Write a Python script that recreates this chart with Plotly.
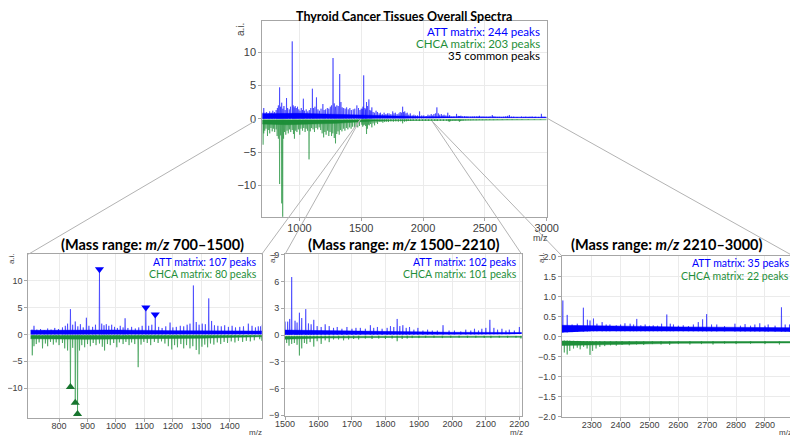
import numpy as np
import plotly.graph_objects as go

# ---- spectrum data (m/z, intensity a.i.) ----
att_mz = [705, 712, 722, 735, 748, 760, 772, 785, 798, 812, 822, 830, 840, 848, 857, 866, 875, 885, 896, 905,
          918, 928, 942, 950, 958, 966, 975, 985, 995, 1005, 1015, 1025, 1032, 1042, 1055, 1068, 1080, 1092, 1105, 1115,
          1126, 1138, 1150, 1162, 1175, 1190, 1200, 1212, 1226, 1238, 1250, 1260, 1272, 1282, 1292, 1303, 1314, 1326, 1336, 1346,
          1358, 1370, 1382, 1395, 1408, 1420, 1435, 1448, 1465, 1478, 1490, 1500, 1508, 1514, 1520, 1530, 1536, 1543, 1550, 1562,
          1570, 1578, 1586, 1596, 1608, 1620, 1632, 1645, 1656, 1670, 1685, 1700, 1712, 1725, 1740, 1755, 1765, 1776, 1790, 1805,
          1815, 1825, 1835, 1843, 1852, 1862, 1872, 1885, 1897, 1912, 1926, 1940, 1955, 1972, 1990, 2006, 2025, 2040, 2055, 2066,
          2078, 2088, 2100, 2112, 2124, 2135, 2148, 2160, 2170, 2185, 2200, 2215, 2232, 2250, 2271, 2285, 2294, 2306, 2318, 2336,
          2350, 2363, 2385, 2400, 2415, 2433, 2445, 2456, 2470, 2485, 2500, 2513, 2528, 2542, 2560, 2572, 2583, 2600, 2617, 2635,
          2652, 2669, 2684, 2698, 2715, 2733, 2760, 2796, 2815, 2831, 2850, 2865, 2882, 2900, 2911, 2935, 2957, 2970, 2985]
att_int = [0.9, 1.6, 0.9, 1.0, 0.8, 1.1, 0.9, 1.2, 1.0, 1.3, 1.6, 2.0, 4.7, 1.8, 2.4, 1.5, 1.9, 1.3, 3.1, 1.6,
           1.4, 1.8, 11.6, 2.0, 1.7, 1.9, 1.6, 1.8, 1.4, 1.2, 1.6, 1.3, 3.0, 1.2, 1.4, 1.1, 1.3, 1.6, 4.5, 1.6,
           1.8, 3.2, 1.4, 1.2, 1.5, 2.2, 1.3, 1.4, 1.6, 1.5, 1.8, 2.0, 9.1, 2.3, 1.8, 2.0, 1.9, 6.7, 2.5, 1.7,
           1.6, 1.5, 1.7, 1.4, 1.6, 1.3, 1.4, 1.5, 2.0, 1.6, 1.3, 1.5, 1.5, 1.8, 6.5, 1.6, 1.4, 2.5, 1.9, 2.9,
           1.3, 1.2, 1.7, 1.0, 0.9, 1.2, 1.0, 0.8, 0.9, 0.7, 0.9, 0.7, 0.8, 0.8, 0.7, 1.1, 0.8, 0.9, 0.7, 0.8,
           1.0, 0.9, 1.8, 1.0, 1.1, 0.8, 0.9, 0.6, 0.8, 0.5, 0.6, 0.5, 0.5, 1.1, 0.5, 0.5, 0.4, 0.6, 0.5, 0.7,
           0.5, 0.7, 0.8, 1.7, 0.8, 0.6, 0.7, 0.5, 0.6, 0.5, 0.9, 0.54, 0.3, 0.32, 0.72, 0.42, 0.4, 0.45, 0.32, 0.36,
           0.3, 0.3, 0.28, 0.3, 0.33, 0.32, 0.3, 0.44, 0.28, 0.3, 0.27, 0.28, 0.27, 0.32, 0.55, 0.32, 0.3, 0.27, 0.28, 0.26,
           0.3, 0.36, 0.43, 0.56, 0.3, 0.3, 0.26, 0.32, 0.27, 0.31, 0.27, 0.3, 0.33, 0.27, 0.3, 0.27, 0.73, 0.3, 0.3]

chca_mz = [706, 712, 720, 730, 742, 752, 760, 770, 780, 790, 800, 812, 820, 830, 840, 848, 857, 865, 872, 880,
           890, 900, 910, 920, 930, 942, 952, 960, 970, 980, 992, 1003, 1012, 1025, 1035, 1046, 1055, 1066, 1078, 1088,
           1098, 1110, 1122, 1135, 1148, 1160, 1172, 1184, 1196, 1206, 1216, 1228, 1238, 1248, 1260, 1270, 1282, 1292, 1302, 1312,
           1322, 1332, 1344, 1356, 1368, 1380, 1392, 1405, 1418, 1430, 1445, 1458, 1472, 1486, 1505, 1512, 1520, 1528, 1536, 1543,
           1550, 1558, 1565, 1575, 1586, 1596, 1608, 1620, 1632, 1645, 1660, 1675, 1690, 1705, 1720, 1740, 1760, 1780, 1800, 1820,
           1835, 1850, 1865, 1880, 1900, 1920, 1945, 1970, 1995, 2020, 2045, 2070, 2095, 2115, 2140, 2165, 2190, 2205, 2215, 2224,
           2237, 2250, 2260, 2272, 2284, 2294, 2303, 2315, 2328, 2345, 2365, 2385, 2405, 2430, 2455, 2480, 2510, 2540, 2570, 2600,
           2640, 2680, 2720, 2760, 2800, 2850, 2900, 2950]
chca_int = [-3.9, -2.2, -1.8, -1.5, -2.6, -1.7, -2.2, -1.4, -1.9, -1.5, -2.0, -1.6, -2.6, -3.0, -9.8, -2.5, -12.7, -14.8, -3.0, -2.0,
            -2.4, -1.8, -2.2, -1.6, -2.0, -1.7, -2.3, -3.0, -1.8, -2.0, -1.6, -2.4, -1.5, -1.8, -1.4, -2.0, -1.5, -1.8, -6.1, -1.9,
            -1.4, -1.6, -2.0, -1.4, -1.6, -1.3, -1.7, -2.2, -2.8, -2.0, -2.4, -1.8, -2.6, -2.0, -2.6, -2.2, -2.9, -3.7, -2.3, -1.9,
            -2.4, -1.7, -1.9, -1.5, -1.8, -1.4, -1.6, -1.3, -1.5, -1.2, -1.4, -1.2, -1.3, -1.1, -0.9, -1.2, -1.0, -0.9, -1.1, -2.3,
            -1.5, -0.9, -1.0, -0.8, -1.3, -0.7, -1.0, -0.6, -0.8, -0.5, -0.5, -0.6, -0.5, -0.45, -0.5, -0.4, -0.45, -0.4, -0.45, -0.4,
            -0.7, -0.45, -0.4, -0.35, -0.35, -0.3, -0.3, -0.35, -0.3, -0.3, -0.32, -0.3, -0.32, -0.35, -0.3, -0.32, -0.3, -0.4, -0.45, -0.36,
            -0.3, -0.28, -0.32, -0.26, -0.3, -0.46, -0.36, -0.3, -0.26, -0.24, -0.22, -0.23, -0.21, -0.22, -0.2, -0.21, -0.19, -0.2, -0.21, -0.19,
            -0.2, -0.19, -0.2, -0.18, -0.19, -0.18, -0.19, -0.2]

# dense noise band under each spectrum
att_band_mz = [700, 800, 900, 1000, 1200, 1400, 1500, 1600, 1800, 2000, 2200, 2300, 2600, 3000]
att_band_lo = [0.0, 0.0, 0.0, 0.0, 0.0, 0.0, 0.0, 0.02, 0.03, 0.05, 0.1, 0.13, 0.13, 0.12]
att_band_hi = [0.75, 0.8, 0.85, 0.8, 0.7, 0.6, 0.55, 0.45, 0.4, 0.3, 0.28, 0.27, 0.24, 0.22]
chca_band_mz = [700, 900, 1100, 1300, 1500, 1600, 1800, 2000, 2200, 2300, 2600, 3000]
chca_band_hi = [-0.15, -0.15, -0.15, -0.15, -0.1, -0.08, -0.08, -0.08, -0.1, -0.12, -0.12, -0.12]
chca_band_lo = [-0.8, -0.9, -0.8, -0.7, -0.45, -0.35, -0.28, -0.25, -0.22, -0.2, -0.17, -0.16]

# marked peaks in the 700-1500 panel
att_mark_mz = [942, 1105, 1138]
att_mark_int = [11.6, 4.5, 3.2]
chca_mark_mz = [840, 857, 865]
chca_mark_int = [-9.8, -12.7, -14.8]

BLUE = '#0000ff'
GREEN = '#1f8f3a'
# page body keeps an 8px margin, so the figure is drawn 8px in from the window corner
OFF = 8
W, H = 790, 430


def px(x):
    return (x - OFF) / W


def py(y):
    return 1 - (y - OFF) / H


def peak_xy(mz, inten, band_mz, band_edge, hw):
    xs, ys = [], []
    for m, h in zip(mz, inten):
        b = float(np.interp(m, band_mz, band_edge))
        xs += [m - hw, m, m + hw, None]
        ys += [b, h, b, None]
    return xs, ys


fig = go.Figure()

# panel: axis suffix, x domain px, y domain px, x range, y range, x ticks, y ticks, font size, peak half width, label shift
panels = [
    ('', (262.3, 546.7), (20.7, 216.7), [700, 3000], [-14.7, 14.7],
     [1000, 1500, 2000, 2500, 3000], [-10, -5, 0, 5, 10], 11, 2.5, -2),
    ('2', (28.3, 261.7), (254.3, 417.7), [692, 1512], [-15.5, 14.9],
     [800, 900, 1000, 1100, 1200, 1300, 1400], [-10, -5, 0, 5, 10], 9, 1.5, -4),
    ('3', (285, 521.7), (254.3, 415.7), [1500, 2207], [-9.05, 9.05],
     [1500, 1600, 1700, 1800, 1900, 2000, 2100, 2200], [-9, -6, -3, 0, 3, 6, 9], 9, 1.2, -4),
    ('4', (561.7, 792.7), (255.7, 417.3), [2196, 2996], [-2.02, 2.02],
     [2300, 2400, 2500, 2600, 2700, 2800, 2900], [-2, -1.5, -1, -0.5, 0, 0.5, 1, 1.5, 2], 9, 1.2, -4),
]

for suf, xd, yd, xr, yr, xt, yt, fs, hw, stand in panels:
    xa, ya = 'x' + suf, 'y' + suf
    # noise bands
    fig.add_trace(go.Scatter(x=att_band_mz, y=att_band_lo, mode='lines', line=dict(width=0, color=BLUE),
                             xaxis=xa, yaxis=ya, showlegend=False, hoverinfo='skip'))
    fig.add_trace(go.Scatter(x=att_band_mz, y=att_band_hi, mode='lines', line=dict(width=0.5, color=BLUE),
                             fill='tonexty', fillcolor=BLUE, xaxis=xa, yaxis=ya, showlegend=False))
    fig.add_trace(go.Scatter(x=chca_band_mz, y=chca_band_hi, mode='lines', line=dict(width=0, color=GREEN),
                             xaxis=xa, yaxis=ya, showlegend=False, hoverinfo='skip'))
    fig.add_trace(go.Scatter(x=chca_band_mz, y=chca_band_lo, mode='lines', line=dict(width=0.5, color=GREEN),
                             fill='tonexty', fillcolor=GREEN, xaxis=xa, yaxis=ya, showlegend=False))
    # peaks
    ax, ay = peak_xy(att_mz, att_int, att_band_mz, att_band_lo, hw)
    fig.add_trace(go.Scatter(x=ax, y=ay, mode='lines', fill='toself', fillcolor='rgba(0,0,255,0.35)',
                             line=dict(width=0.8, color='rgba(0,0,255,0.6)'), xaxis=xa, yaxis=ya, showlegend=False))
    cx, cy = peak_xy(chca_mz, chca_int, chca_band_mz, chca_band_hi, hw)
    fig.add_trace(go.Scatter(x=cx, y=cy, mode='lines', fill='toself', fillcolor='rgba(31,143,58,0.4)',
                             line=dict(width=0.8, color='rgba(31,143,58,0.7)'), xaxis=xa, yaxis=ya, showlegend=False))

    axis_common = dict(showgrid=True, gridcolor='#ebebeb', gridwidth=1, zeroline=False, showline=True,
                       mirror=True, linecolor='#a6a6a6', linewidth=1, ticks='outside', ticklen=3,
                       tickcolor='#a6a6a6', automargin=False,
                       tickfont=dict(family='Liberation Sans, Arial', size=fs, color='#404040'))
    fig.layout['xaxis' + suf] = dict(domain=[px(xd[0]), px(xd[1])], range=xr, anchor=ya, tickvals=xt,
                                     ticklabelstandoff=stand, **axis_common)
    fig.layout['yaxis' + suf] = dict(domain=[py(yd[1]), py(yd[0])], range=yr, anchor=xa, tickvals=yt,
                                     tickformat='.1f' if suf == '4' else '', **axis_common)

# markers on the zoomed 700-1500 panel
fig.add_trace(go.Scatter(x=att_mark_mz, y=[v + 0.5 for v in att_mark_int], mode='markers',
                         marker=dict(symbol='triangle-down', size=8, color=BLUE),
                         xaxis='x2', yaxis='y2', showlegend=False))
fig.add_trace(go.Scatter(x=chca_mark_mz, y=chca_mark_int, mode='markers',
                         marker=dict(symbol='triangle-up', size=8, color='#17752e'),
                         xaxis='x2', yaxis='y2', showlegend=False))

# connector lines from overview to zoom panels
connectors = [((255, 121), (28.3, 254.3)), ((360, 120), (261.7, 254.3)), ((360, 120), (285, 254.3)),
              ((432, 121), (521.7, 254.3)), ((432, 121), (561.7, 255.7)), ((546.7, 118), (792.7, 255.7))]
shapes = []
for (x0, y0), (x1, y1) in connectors:
    shapes.append(dict(type='line', xref='paper', yref='paper', x0=px(x0), y0=py(y0), x1=px(x1), y1=py(y1),
                       line=dict(color='#b3b3b3', width=1)))

ann = []


def text(x, y, s, size, color='#000000', xanchor='center', family='Lato', angle=0, yanchor='middle'):
    ann.append(dict(x=px(x), y=py(y), xref='paper', yref='paper', text=s, showarrow=False, xanchor=xanchor,
                    yanchor=yanchor, textangle=angle, borderpad=0,
                    font=dict(family=family, size=size, color=color)))


text(404, 8, '<b>Thyroid Cancer Tissues Overall Spectra</b>', 12.5, yanchor='top')
text(541, 31, 'ATT matrix: 244 peaks', 11.5, BLUE, 'right')
text(541, 43, 'CHCA matrix: 203 peaks', 11.5, GREEN, 'right')
text(541, 55, '35 common peaks', 11.5, '#000000', 'right')

titles = [(152, '700–1500'), (403, '1500–2210'), (666, '2210–3000')]
for x, r in titles:
    text(x, 245, '<b>(Mass range: <i>m/z</i> ' + r + ')</b>', 14.5)

text(258, 262, 'ATT matrix: 107 peaks', 10.5, BLUE, 'right')
text(258, 274, 'CHCA matrix: 80 peaks', 10.5, GREEN, 'right')
text(518, 262, 'ATT matrix: 102 peaks', 10.5, BLUE, 'right')
text(518, 274, 'CHCA matrix: 101 peaks', 10.5, GREEN, 'right')
text(790, 263, 'ATT matrix: 35 peaks', 10.5, BLUE, 'right')
text(790, 276, 'CHCA matrix: 22 peaks', 10.5, GREEN, 'right')

for x, y, fs in [(241, 30, 10), (11, 259, 8), (272, 258, 8), (541, 258, 8)]:
    text(x, y, 'a.i.', fs, '#404040', 'center', 'Liberation Sans, Arial', -90)
for x, y, fs in [(540, 238, 9), (255, 432, 8), (516, 432, 8), (785, 432, 8)]:
    text(x, y, 'm/z', fs, '#404040', 'center', 'Liberation Sans, Arial')

fig.update_layout(width=W, height=H, margin=dict(l=0, r=0, t=0, b=0), paper_bgcolor='white',
                  plot_bgcolor='white', showlegend=False, shapes=shapes, annotations=ann)

fig.write_html("out.html")
